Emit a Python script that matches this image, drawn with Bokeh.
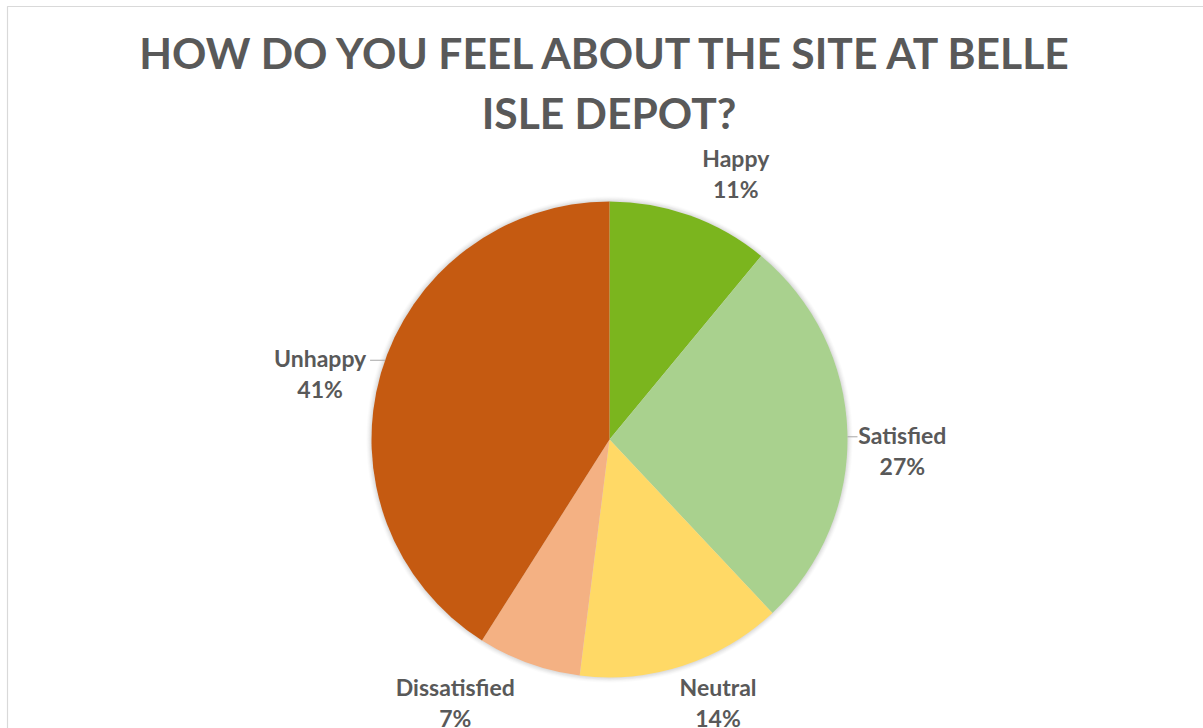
import math

from bokeh.core.properties import value
from bokeh.embed import file_html
from bokeh.models import ColumnDataSource, Range1d
from bokeh.plotting import figure
from bokeh.resources import INLINE

# Survey results
categories = ["Happy", "Satisfied", "Neutral", "Dissatisfied", "Unhappy"]
percentages = [11, 27, 14, 7, 41]
slice_colors = ["#7BB51E", "#A9D18E", "#FFD966", "#F4B183", "#C55A11"]
title_lines = ["HOW DO YOU FEEL ABOUT THE SITE AT BELLE", "ISLE DEPOT?"]

W, H = 1203, 728
FONT = "Lato"
TEXT_COLOR = "#595959"

# Pie geometry (screen pixels, y measured downward)
CX, CY, R = 609, 439, 238
LABEL_R = 293
label_nudge = [(27, 10), (0, 20), (18, -16), (-55, -13), (-8, 16)]
leader_len = [0, 10, 0, 0, 15]
LINE_GAP = 15.5


def fy(y_px):
    return H - y_px


p = figure(width=W, height=H, output_backend="svg", toolbar_location=None,
           x_range=Range1d(0, W), y_range=Range1d(0, H), min_border=0)
p.axis.visible = False
p.grid.visible = False
p.outline_line_color = None
p.background_fill_color = "white"
p.border_fill_color = "white"

# chart frame
p.quad(left=[7], right=[W + 20], top=[fy(6)], bottom=[-20],
       fill_color=None, line_color="#d9d9d9", line_width=1.2)

# soft shadow around the pie
for dr, a in [(5, 0.03), (4, 0.04), (3, 0.05), (2, 0.06), (1, 0.08)]:
    p.circle(x=[CX], y=[fy(CY)], radius=R + dr, fill_color="#7f7f7f",
             fill_alpha=a, line_color=None)

total = float(sum(percentages))
starts, ends, mids = [], [], []
cum = 0.0
for v in percentages:
    a0 = cum / total * 2 * math.pi
    cum += v
    a1 = cum / total * 2 * math.pi
    # clockwise from 12 o'clock -> math angles
    starts.append(math.pi / 2 - a1)
    ends.append(math.pi / 2 - a0)
    mids.append((a0 + a1) / 2)

src = ColumnDataSource(dict(x=[CX] * len(categories), y=[fy(CY)] * len(categories),
                            start=starts, end=ends, color=slice_colors))
p.wedge(x="x", y="y", radius=R, start_angle="start", end_angle="end",
        fill_color="color", line_color=None, source=src)

# labels
lx1, ly1, lt1, lx2, ly2, lt2 = [], [], [], [], [], []
for i, (cat, v) in enumerate(zip(categories, percentages)):
    m = mids[i]
    x = CX + LABEL_R * math.sin(m) + label_nudge[i][0]
    y = CY - LABEL_R * math.cos(m) + label_nudge[i][1]
    lx1.append(x); ly1.append(fy(y - LINE_GAP)); lt1.append(cat)
    lx2.append(x); ly2.append(fy(y + LINE_GAP)); lt2.append(f"{v}%")
    if leader_len[i]:
        yl = y - LINE_GAP + 2
        dx = math.sqrt(R * R - (yl - CY) ** 2)
        side = 1 if math.sin(m) > 0 else -1
        xe = CX + side * dx
        p.line(x=[xe, xe + side * leader_len[i]], y=[fy(yl), fy(yl)],
               line_color="#a6a6a6", line_width=1)

for xs, ys, ts in [(lx1, ly1, lt1), (lx2, ly2, lt2)]:
    p.text(x=xs, y=ys, text=ts, text_font=value(FONT), text_font_style="bold",
           text_font_size="23px", text_color=TEXT_COLOR, text_align="center",
           text_baseline="middle")

# title
p.text(x=[W / 2 + 7, W / 2 + 7], y=[fy(52), fy(112)], text=title_lines,
       text_font=value(FONT), text_font_style="bold", text_font_size="42.6px",
       text_color=TEXT_COLOR, text_align="center", text_baseline="middle")

open("out.html", "w").write(file_html(p, INLINE))
